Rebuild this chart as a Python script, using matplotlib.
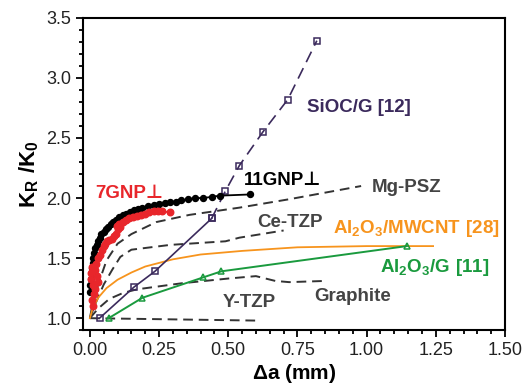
import matplotlib
matplotlib.use("Agg")
import matplotlib.pyplot as plt
from matplotlib.ticker import MultipleLocator, FormatStrFormatter

plt.rcParams['font.family'] = ['Liberation Sans', 'DejaVu Sans']
plt.rcParams['mathtext.fontset'] = 'custom'
plt.rcParams['mathtext.rm'] = 'Liberation Sans'
plt.rcParams['mathtext.bf'] = 'Liberation Sans:bold'

# 11GNP (black dots)
gnp11_x = [0.000, 0.002, 0.004, 0.006, 0.008, 0.010, 0.013, 0.016, 0.020, 0.025,
           0.030, 0.036, 0.042, 0.050, 0.058, 0.066, 0.075, 0.085, 0.095, 0.105,
           0.118, 0.130, 0.145, 0.160, 0.175, 0.190, 0.210, 0.230, 0.250, 0.270,
           0.290, 0.310, 0.330, 0.355, 0.380, 0.410, 0.440, 0.470, 0.580]
gnp11_y = [1.22, 1.28, 1.33, 1.38, 1.42, 1.46, 1.50, 1.54, 1.58, 1.61,
           1.64, 1.67, 1.70, 1.72, 1.74, 1.76, 1.78, 1.80, 1.82, 1.84,
           1.86, 1.87, 1.88, 1.90, 1.91, 1.92, 1.93, 1.94, 1.95, 1.96,
           1.965, 1.97, 1.98, 1.99, 2.00, 2.00, 2.01, 2.02, 2.03]

# 7GNP (red dots)
gnp7_x = [0.010, 0.006, 0.015, 0.020, 0.012, 0.005, 0.003, 0.008, 0.018, 0.025,
          0.030, 0.022, 0.028, 0.038, 0.045, 0.050, 0.055, 0.062, 0.070, 0.080,
          0.088, 0.095, 0.100, 0.098, 0.104, 0.110, 0.120, 0.130, 0.140, 0.155,
          0.170, 0.185, 0.200, 0.215, 0.230, 0.245, 0.260, 0.290]
gnp7_y = [1.10, 1.15, 1.20, 1.24, 1.28, 1.33, 1.38, 1.43, 1.40, 1.35,
          1.30, 1.45, 1.50, 1.53, 1.57, 1.60, 1.62, 1.64, 1.65, 1.66,
          1.68, 1.70, 1.74, 1.77, 1.78, 1.76, 1.80, 1.82, 1.83, 1.84,
          1.85, 1.86, 1.87, 1.88, 1.89, 1.89, 1.89, 1.88]

# SiOC/G [12]
sioc_x = [0.035, 0.16, 0.235, 0.44, 0.49, 0.54, 0.625, 0.715, 0.82]
sioc_y = [1.00, 1.26, 1.39, 1.83, 2.06, 2.27, 2.55, 2.82, 3.31]

# Al2O3/MWCNT [28]
mwcnt_x = [0, 0.01, 0.03, 0.06, 0.10, 0.15, 0.20, 0.30, 0.40, 0.55, 0.75, 1.00, 1.24]
mwcnt_y = [1.00, 1.08, 1.17, 1.25, 1.32, 1.38, 1.43, 1.49, 1.53, 1.56, 1.59, 1.60, 1.60]

# Al2O3/G [11]
alg_x = [0.068, 0.19, 0.41, 0.475, 1.145]
alg_y = [1.00, 1.17, 1.34, 1.39, 1.60]

# reference ceramics (dashed)
mgpsz_x = [0, 0.01, 0.03, 0.06, 0.10, 0.15, 0.24, 0.36, 0.54, 0.72, 0.98]
mgpsz_y = [1.0, 1.12, 1.28, 1.48, 1.62, 1.70, 1.80, 1.86, 1.92, 1.99, 2.10]
cetzp_x = [0, 0.02, 0.05, 0.08, 0.11, 0.15, 0.29, 0.49, 0.54, 0.70]
cetzp_y = [1.0, 1.12, 1.28, 1.40, 1.51, 1.57, 1.61, 1.64, 1.67, 1.73]
graph_x = [0, 0.03, 0.07, 0.12, 0.17, 0.33, 0.50, 0.60, 0.67, 0.72, 0.85]
graph_y = [1.0, 1.08, 1.16, 1.21, 1.24, 1.29, 1.33, 1.35, 1.31, 1.30, 1.31]
ytzp_x = [0, 0.3, 0.6]
ytzp_y = [1.0, 0.99, 0.98]

c_red = '#e8262b'
c_pur = '#3b2a5c'
c_org = '#f7941d'
c_grn = '#1a9a3e'
c_dsh = '#333333'
c_txt = '#444444'

fig = plt.figure(figsize=(5.25, 3.88), dpi=100)
ax = fig.add_axes([0.158, 0.149, 0.804, 0.805])

dash = (0, (5, 3))
for xs, ys in [(mgpsz_x, mgpsz_y), (cetzp_x, cetzp_y), (graph_x, graph_y), (ytzp_x, ytzp_y)]:
    ax.plot(xs, ys, color=c_dsh, lw=1.4, linestyle=dash)

ax.plot(mwcnt_x, mwcnt_y, color=c_org, lw=1.3)
ax.plot(alg_x, alg_y, color=c_grn, lw=1.4, marker='^', ms=4.5, mfc='none', mew=1.1)

# SiOC: solid in the lower part, dashed above
ax.plot(sioc_x[:4], sioc_y[:4], color=c_pur, lw=1.2, marker='s', ms=4, mfc='none', mew=1.1)
ax.plot(sioc_x[3:], sioc_y[3:], color=c_pur, lw=1.2, linestyle=(0, (7, 4)),
        marker='s', ms=4, mfc='none', mew=1.1)

ax.plot(gnp11_x, gnp11_y, color='black', lw=1.3, marker='o', ms=4.3)
ax.plot(gnp7_x, gnp7_y, color=c_red, lw=1.3, marker='o', ms=4.7)

fs = 13.5
ax.text(0.018, 2.04, '7GNP\u22a5', color=c_red, fontsize=fs, fontweight='bold', va='center')
ax.text(0.555, 2.15, '11GNP\u22a5', color='black', fontsize=fs, fontweight='bold', va='center')
ax.text(0.786, 2.75, 'SiOC/G [12]', color=c_pur, fontsize=fs, fontweight='bold', va='center')
ax.text(1.02, 2.09, 'Mg-PSZ', color=c_txt, fontsize=fs, fontweight='bold', va='center')
ax.text(0.605, 1.80, 'Ce-TZP', color=c_txt, fontsize=fs, fontweight='bold', va='center')
ax.text(0.877, 1.75, r'$\mathbf{Al_2O_3/MWCNT\ [28]}$', color=c_org, fontsize=fs, va='center')
ax.text(1.05, 1.42, r'$\mathbf{Al_2O_3/G\ [11]}$', color=c_grn, fontsize=fs, va='center')
ax.text(0.81, 1.18, 'Graphite', color=c_txt, fontsize=fs, fontweight='bold', va='center')
ax.text(0.48, 1.13, 'Y-TZP', color=c_txt, fontsize=fs, fontweight='bold', va='center')

ax.set_xlim(-0.025, 1.5)
ax.set_ylim(0.9, 3.5)
ax.xaxis.set_major_locator(MultipleLocator(0.25))
ax.xaxis.set_minor_locator(MultipleLocator(0.05))
ax.yaxis.set_major_locator(MultipleLocator(0.5))
ax.yaxis.set_minor_locator(MultipleLocator(0.1))
ax.xaxis.set_major_formatter(FormatStrFormatter('%.2f'))
ax.yaxis.set_major_formatter(FormatStrFormatter('%.1f'))
ax.tick_params(which='both', direction='out', top=False, right=False, width=1.3,
               labelsize=13, labelcolor='#222222')
ax.tick_params(which='major', length=5)
ax.tick_params(which='minor', length=3)
for s in ax.spines.values():
    s.set_linewidth(1.5)

ax.set_xlabel(r'$\mathbf{\Delta a}$ (mm)', fontsize=15, fontweight='bold', labelpad=2)
ax.set_ylabel(r'$\mathbf{K_R\ /K_0}$', fontsize=16, labelpad=4)

fig.savefig('out.png', dpi=100)
